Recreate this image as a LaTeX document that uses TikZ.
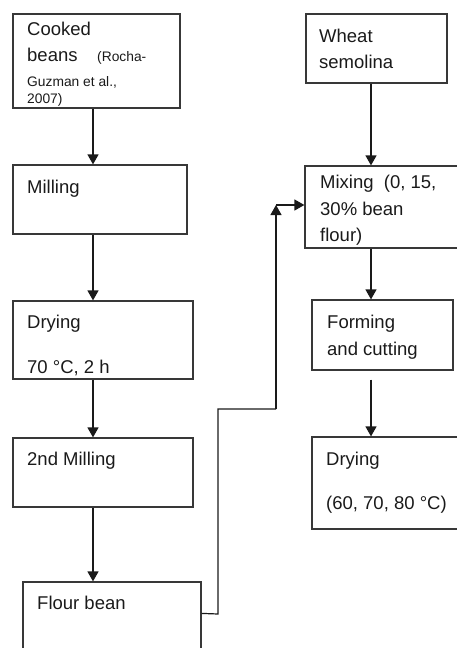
\documentclass[tikz,border=0pt]{standalone}
\usepackage{fontspec}
\setmainfont{Liberation Sans}
\usetikzlibrary{arrows.meta,calc}
\definecolor{boxc}{HTML}{383838}
\definecolor{txtc}{HTML}{1A1A1A}
\begin{document}
\begin{tikzpicture}[x=1pt,y=-1pt,
  box/.style={draw=boxc,line width=1.2pt,rectangle,inner sep=0pt},
  txt/.style={anchor=base west,inner sep=0pt,text=txtc,font=\fontsize{18.5}{22}\selectfont},
  small/.style={anchor=base west,inner sep=0pt,text=txtc,font=\fontsize{13.8}{16}\selectfont},
  arr/.style={draw=txtc,line width=1.2pt,-{Triangle[length=10pt,width=11pt]}},
  conn/.style={draw=txtc,line width=1.2pt}]
\useasboundingbox (0,0) rectangle (457,648);
\begin{scope}
\clip (0,0) rectangle (457,648);
% boxes
\node[box,minimum width=167pt,minimum height=94pt] (cooked) at (96.5,61) {};
\node[box,minimum width=174pt,minimum height=69pt] (milling) at (100,199.5) {};
\node[box,minimum width=180pt,minimum height=78pt] (dryA) at (103,340) {};
\node[box,minimum width=180pt,minimum height=69pt] (millB) at (103,472.5) {};
\node[box,minimum width=178pt,minimum height=78pt] (flour) at (112,621) {};
\node[box,minimum width=141pt,minimum height=69pt] (wheat) at (376.5,48.5) {};
\node[box,minimum width=165pt,minimum height=82pt] (mix) at (387.5,207) {};
\node[box,minimum width=141pt,minimum height=70pt] (form) at (382.5,335) {};
\node[box,minimum width=158pt,minimum height=92pt] (dryB) at (391,483) {};
% texts
\node[txt] (t1) at (27,35) {Cooked};
\node[txt] (t2) at (27,61) {beans};
\node[small] (t3) at (97,61) {(Rocha-};
\node[small] (t4) at (27,86) {Guzman et al.,};
\node[small] (t5) at (27,103) {2007)};
\node[txt] (t6) at (27,193) {Milling};
\node[txt] (t7) at (27,328) {Drying};
\node[txt] (t8) at (27,373) {70 °C, 2 h};
\node[txt] (t9) at (27,465) {2nd Milling};
\node[txt] (t10) at (37,609) {Flour bean};
\node[txt] (t11) at (319,42) {Wheat};
\node[txt] (t12) at (319,68) {semolina};
\node[txt] (t13) at (320,188) {Mixing\ \ (0, 15,};
\node[txt] (t14) at (320,215) {30\% bean};
\node[txt] (t15) at (320,241) {flour)};
\node[txt] (t16) at (327,328) {Forming};
\node[txt] (t17) at (327,355) {and cutting};
\node[txt] (t18) at (326,465) {Drying};
\node[txt] (t19) at (326,509) {(60, 70, 80 °C)};
% arrows
\coordinate (xL) at (93,0);
\coordinate (xR) at (371,0);
\draw[arr] (cooked.south -| xL) -- (milling.north -| xL);
\draw[arr] (milling.south -| xL) -- (dryA.north -| xL);
\draw[arr] (dryA.south -| xL) -- (millB.north -| xL);
\draw[arr] (millB.south -| xL) -- (flour.north -| xL);
\draw[arr] (wheat.south -| xR) -- (mix.north -| xR);
\draw[arr] (mix.south -| xR) -- (form.north -| xR);
\coordinate (fg) at ($(form.south -| xR)+(0,9)$);
\draw[arr] (fg) -- (dryB.north -| xR);
\coordinate (c0) at ($(flour.north east)+(0,32)$);
\coordinate (c1) at (218,614);
\coordinate (c2) at (218,409);
\coordinate (c3) at (276,409);
\coordinate (c4) at (276,205);
\draw[conn] (c0) -- (c1) -- (c2) -- (c3);
\draw[arr] (c3) -- (c4);
\draw[arr] (c4) -- (mix.west |- c4);
\end{scope}
\end{tikzpicture}
\end{document}
